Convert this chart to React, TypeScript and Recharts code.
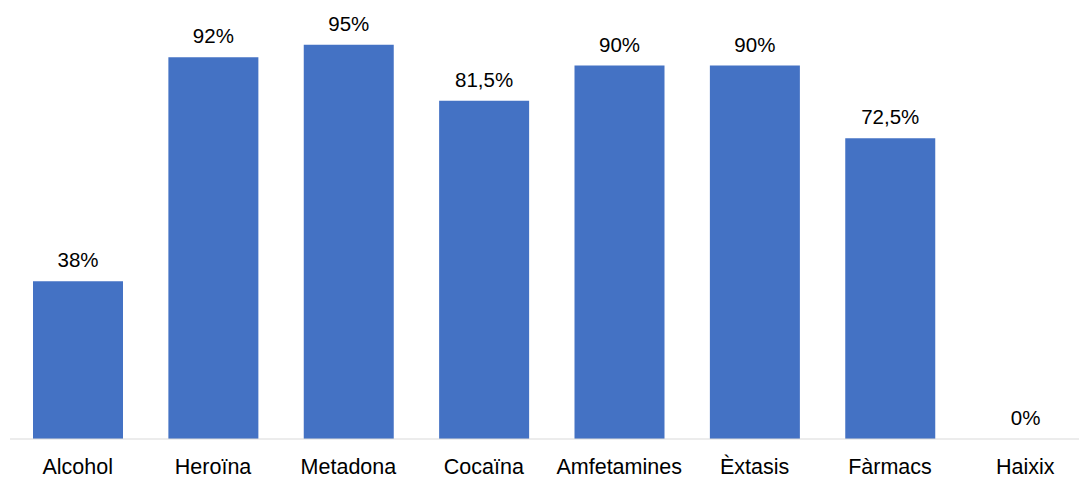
import { BarChart, Bar, XAxis, YAxis, LabelList, Cell } from 'recharts';

const categories = ['Alcohol', 'Heroïna', 'Metadona', 'Cocaïna', 'Amfetamines', 'Èxtasis', 'Fàrmacs', 'Haixix'];
const values = [38, 92, 95, 81.5, 90, 90, 72.5, 0];

const data = categories.map((name, i) => ({ name, value: values[i] }));

const fmt = (v: number) => `${String(v).replace('.', ',')}%`;
const font = 'Liberation Sans, Arial, sans-serif';

export default function App() {
  return (
    <div style={{ position: 'fixed', top: 0, left: 0, width: 1079, height: 479, overflow: 'hidden', background: '#fff' }}>
      <BarChart
        width={1100}
        height={479}
        data={data}
        margin={{ top: 24, right: 7, left: 10, bottom: 0 }}
      >
        <XAxis
          dataKey="name"
          height={40}
          tickLine={false}
          axisLine={{ stroke: '#d9d9d9', strokeWidth: 1 }}
          tick={{ fill: '#000', fontSize: 21.5, fontFamily: font }}
          tickMargin={14}
          interval={0}
        />
        <YAxis hide domain={[0, 100]} />
        <Bar dataKey="value" fill="#4472c4" barSize={90} minPointSize={0.5} isAnimationActive={false}>
          {data.map((d, i) => (
            <Cell key={i} fill={d.value === 0 ? 'transparent' : '#4472c4'} />
          ))}
          <LabelList
            dataKey="value"
            position="top"
            offset={14}
            formatter={(v: number) => fmt(v)}
            style={{ fill: '#000', fontSize: 20.5, fontFamily: font }}
          />
        </Bar>
      </BarChart>
    </div>
  );
}
